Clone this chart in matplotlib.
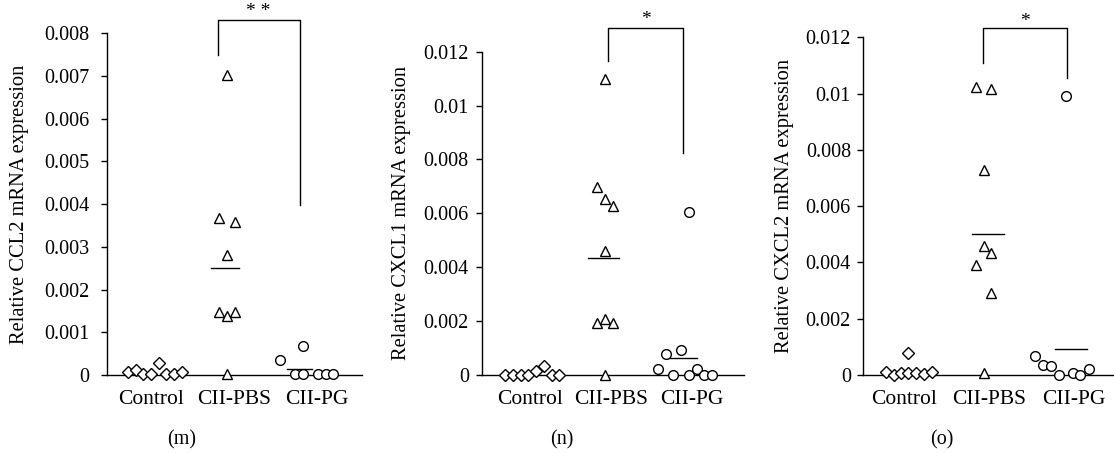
import matplotlib.pyplot as plt

plt.rcParams['font.family'] = ['Liberation Serif', 'DejaVu Serif']

groups = ["Control", "CII-PBS", "CII-PG"]

# panel (m) CCL2
ccl2_ctrl_x = [0.727, 0.819, 0.907, 1.0, 1.096, 1.184, 1.277, 1.37]
ccl2_ctrl_y = [0.00006, 0.00012, 0.00002, 0.00002, 0.00027, 0.00002, 0.00002, 0.00006]
ccl2_pbs_x = [1.916, 1.82, 2.012, 1.916, 1.82, 1.916, 2.012, 1.916]
ccl2_pbs_y = [0.00703, 0.00367, 0.00359, 0.00281, 0.00148, 0.00138, 0.00148, 0.00002]
ccl2_pg_x = [2.554, 2.835, 2.735, 2.835, 3.004, 3.1, 3.196]
ccl2_pg_y = [0.00035, 0.00069, 0.00002, 0.00002, 0.00002, 0.00002, 0.00002]
ccl2_means = [0.0025, 0.00013]

# panel (n) CXCL1
cxcl1_ctrl_x = [0.695, 0.79, 0.885, 0.979, 1.074, 1.173, 1.268, 1.363]
cxcl1_ctrl_y = [0.0, 0.0, 0.0, 0.0, 0.00013, 0.00033, 0.0, 0.0]
cxcl1_pbs_x = [1.932, 1.833, 1.932, 2.027, 1.932, 1.833, 1.932, 2.027, 1.932]
cxcl1_pbs_y = [0.01099, 0.00699, 0.00652, 0.00628, 0.00461, 0.00192, 0.00208, 0.00192, 0.0]
cxcl1_pg_x = [2.588, 2.687, 2.774, 2.873, 2.972, 3.071, 3.157, 3.256, 2.972]
cxcl1_pg_y = [0.00022, 0.00078, 0.0, 0.00093, 0.0, 0.00022, 0.0, 0.0, 0.00604]
cxcl1_means = [0.00433, 0.00062]

# panel (o) CXCL2
cxcl2_ctrl_x = [0.778, 0.873, 0.959, 1.045, 1.136, 1.23, 1.32, 1.045]
cxcl2_ctrl_y = [0.00011, 0.0, 0.00008, 0.00008, 0.00008, 0.00004, 0.00011, 0.00077]
cxcl2_pbs_x = [1.839, 2.024, 1.933, 1.933, 2.024, 1.839, 2.024, 1.933]
cxcl2_pbs_y = [0.01022, 0.01015, 0.00729, 0.00458, 0.00432, 0.00391, 0.0029, 0.00008]
cxcl2_pg_x = [2.542, 2.632, 2.727, 2.821, 2.986, 3.072, 3.171, 2.907]
cxcl2_pg_y = [0.00068, 0.00036, 0.00032, 0.0, 0.00008, 0.0, 0.0002, 0.00991]
cxcl2_means = [0.005, 0.00091]

panels = [
    dict(rect=[0.0961, 0.1722, 0.2289, 0.7543], xlim=(0.47, 3.54), ymax=0.008,
         yticks=[0, 0.001, 0.002, 0.003, 0.004, 0.005, 0.006, 0.007, 0.008],
         ylabels=["0", "0.001", "0.002", "0.003", "0.004", "0.005", "0.006", "0.007", "0.008"],
         ylabel="Relative CCL2 mRNA expression", ypad=8, labelpad=11,
         ctrl=(ccl2_ctrl_x, ccl2_ctrl_y), pbs=(ccl2_pbs_x, ccl2_pbs_y), pg=(ccl2_pg_x, ccl2_pg_y),
         means=ccl2_means, mean_x=[(1.723, 2.06), (2.642, 2.943)],
         bracket=(1.80, 2.787, 0.00749, 0.00831, 0.00398), star="* *", star_y=0.00851,
         letter="(m)", letter_x=0.163),
    dict(rect=[0.4327, 0.1722, 0.2352, 0.7137], xlim=(0.406, 3.65), ymax=0.012,
         yticks=[0, 0.002, 0.004, 0.006, 0.008, 0.01, 0.012],
         ylabels=["0", "0.002", "0.004", "0.006", "0.008", "0.01", "0.012"],
         ylabel="Relative CXCL1 mRNA expression", ypad=5, labelpad=9,
         ctrl=(cxcl1_ctrl_x, cxcl1_ctrl_y), pbs=(cxcl1_pbs_x, cxcl1_pbs_y), pg=(cxcl1_pg_x, cxcl1_pg_y),
         means=cxcl1_means, mean_x=[(1.72, 2.105), (2.68, 3.063)],
         bracket=(1.965, 2.897, 0.01166, 0.01287, 0.00823), star="*", star_y=0.01318,
         letter="(n)", letter_x=0.504),
    dict(rect=[0.7744, 0.1722, 0.2256, 0.7455], xlim=(0.507, 3.47), ymax=0.012,
         yticks=[0, 0.002, 0.004, 0.006, 0.008, 0.01, 0.012],
         ylabels=["0", "0.002", "0.004", "0.006", "0.008", "0.01", "0.012"],
         ylabel="Relative CXCL2 mRNA expression", ypad=4, labelpad=8,
         ctrl=(cxcl2_ctrl_x, cxcl2_ctrl_y), pbs=(cxcl2_pbs_x, cxcl2_pbs_y), pg=(cxcl2_pg_x, cxcl2_pg_y),
         means=cxcl2_means, mean_x=[(1.79, 2.17), (2.777, 3.157)],
         bracket=(1.92, 2.915, 0.01108, 0.01232, 0.01054), star="*", star_y=0.01256,
         letter="(o)", letter_x=0.845),
]

fig = plt.figure(figsize=(11.14, 4.53), dpi=100)

for p in panels:
    ax = fig.add_axes(p["rect"])
    mk = dict(linestyle="none", markerfacecolor="white", markeredgecolor="black",
              markeredgewidth=1.0, clip_on=False, zorder=3)
    ax.plot(*p["ctrl"], marker="D", markersize=5.8, **mk)
    ax.plot(*p["pbs"], marker="^", markersize=7.5, **mk)
    ax.plot(*p["pg"], marker="o", markersize=7, **mk)
    for m, (x0, x1) in zip(p["means"], p["mean_x"]):
        ax.plot([x0, x1], [m, m], color="black", lw=1.0)

    # significance bracket
    bl, br, yl, yt, yr = p["bracket"]
    ax.plot([bl, bl, br, br], [yl, yt, yt, yr], color="black", lw=1.0, clip_on=False)
    ax.text((bl + br) / 2, p["star_y"], p["star"], ha="center", va="center", fontsize=14)

    ax.set_xlim(*p["xlim"])
    ax.set_ylim(0, p["ymax"])
    ax.set_xticks([1, 2, 3])
    ax.set_xticklabels(groups, fontsize=15.5)
    ax.set_yticks(p["yticks"])
    ax.set_yticklabels(p["ylabels"], fontsize=14.5)
    ax.tick_params(axis="x", length=0, pad=11)
    ax.tick_params(axis="y", length=4.5, width=1.0, pad=p["ypad"], direction="out")
    ax.set_ylabel(p["ylabel"], fontsize=14.8, labelpad=p["labelpad"])
    for s in ["top", "right"]:
        ax.spines[s].set_visible(False)
    ax.spines["left"].set_linewidth(1.0)
    ax.spines["bottom"].set_linewidth(1.0)
    fig.text(p["letter_x"], 1 - 440 / 453, p["letter"], ha="center", va="center", fontsize=14.5)

fig.savefig("out.png", dpi=100)
